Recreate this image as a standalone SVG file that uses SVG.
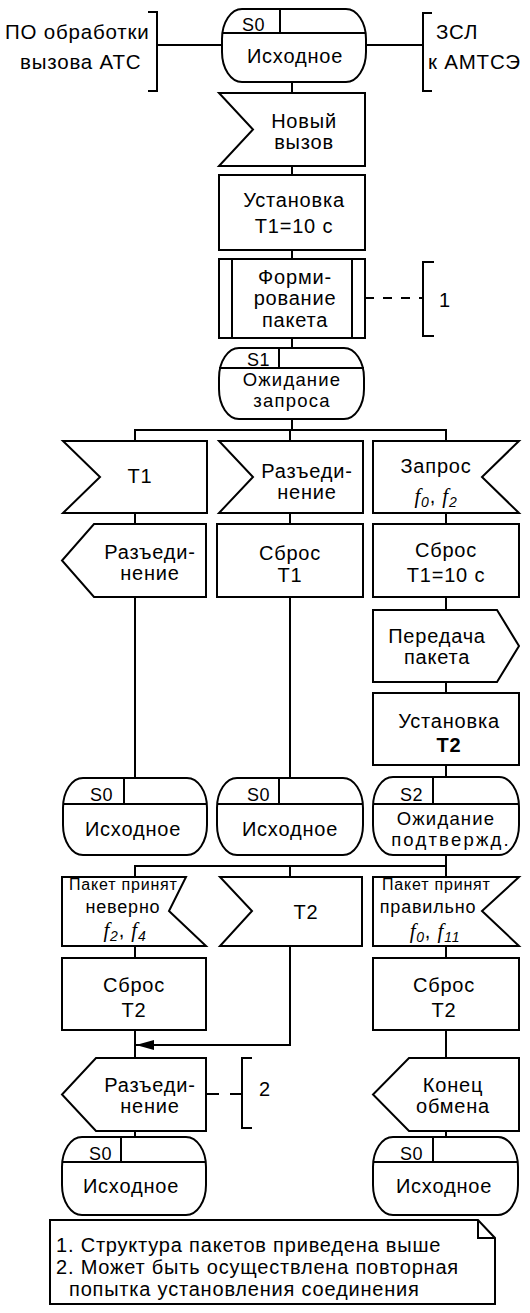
<svg xmlns="http://www.w3.org/2000/svg" width="530" height="1313" viewBox="0 0 530 1313">
<style>
.s{fill:#fff;stroke:#000;stroke-width:2}
.ln{fill:none;stroke:#000;stroke-width:2}
.ds{stroke-dasharray:9 9}
.t{font-family:"Liberation Sans",Arial,sans-serif;font-size:20px;letter-spacing:0.8px;text-anchor:middle;fill:#000}
.st{font-family:"Liberation Sans",Arial,sans-serif;font-size:18px;letter-spacing:0.5px;text-anchor:end;fill:#000}
.l{text-anchor:start}
.sm{font-size:16px}
.sm2{font-size:18px}
.md{font-size:18.5px;letter-spacing:1.2px}
.an{font-size:20.5px}
.fi{font-family:"Liberation Serif",serif;font-style:italic;font-size:21px}
.sb{font-style:italic;font-size:14px}
.b{font-weight:bold}
</style>
<defs>
<marker id="ah" viewBox="0 0 18 10" refX="18" refY="5" markerWidth="18" markerHeight="10" markerUnits="userSpaceOnUse" orient="auto">
<path d="M0 0 L18 5 L0 10 Z" fill="#000"/>
</marker>
</defs>

<g id="connectors">
<path class="ln" d="M157 45 H222 M366 45 H423"/>
<path class="ln" d="M292 82 V93 M292 166 V175 M292 250 V259 M292 338 V348 M292 419 V430"/>
<path class="ln" d="M135 441 V430 H446 V441 M290 430 V441"/>
<path class="ln" d="M135 513 V524 M290 513 V524 M446 513 V524"/>
<path class="ln" d="M135 597 V778 M290 597 V778 M446 597 V610 M446 682 V693 M446 765 V777"/>
<path class="ln" d="M446 855 V866 H135 V877 M290 866 V877 M446 866 V877"/>
<path class="ln" d="M135 946 V958 M446 946 V958 M135 1030 V1058 M446 1030 V1058 M135 1131 V1137 M446 1131 V1137"/>
<path class="ln" d="M290 946 V1045 H136" marker-end="url(#ah)"/>
<path class="ln ds" d="M365 298 H423"/>
<path class="ln" d="M206 1094 H219 M230 1094 H242"/>
</g>

<g id="ann-left">
<path class="ln" d="M148 12 H157 V91 H148"/>
<text class="t l an" x="5" y="39">ПО обработки</text>
<text class="t l an" x="20" y="69">вызова АТС</text>
</g>
<g id="ann-right">
<path class="ln" d="M432 13 H423 V91 H432"/>
<text class="t l an" x="436" y="39">ЗСЛ</text>
<text class="t l an" x="428" y="69">к АМТСЭ</text>
</g>

<g id="state-s0-top">
<rect class="s" x="222" y="9" width="144" height="73" rx="20" ry="30"/>
<path class="ln" d="M222 33 H366 M280 9 V33"/>
<text class="st" x="265" y="31">S0</text>
<text class="t" x="295" y="63">Исходное</text>
</g>

<g id="in-new-call">
<path class="s" d="M219 93 H365 V166 H219 L253 129.5 Z"/>
<text class="t" x="304" y="128">Новый</text>
<text class="t" x="304" y="149">вызов</text>
</g>

<g id="task-set-t1">
<rect class="s" x="219" y="175" width="146" height="75"/>
<text class="t" x="294" y="207">Установка</text>
<text class="t" x="294" y="233">T1=10 с</text>
</g>

<g id="proc-form">
<rect class="s" x="219" y="259" width="146" height="79"/>
<path class="ln" d="M232 259 V338 M352 259 V338"/>
<text class="t" x="295" y="284">Форми-</text>
<text class="t" x="295" y="305">рование</text>
<text class="t" x="295" y="327">пакета</text>
</g>

<g id="ann-1">
<path class="ln" d="M434 262 H423 V336 H434"/>
<text class="t l" x="439" y="307">1</text>
</g>

<g id="state-s1">
<rect class="s" x="219" y="348" width="145" height="71" rx="20" ry="30"/>
<path class="ln" d="M219 368 H364 M279 348 V368"/>
<text class="st" x="270" y="366">S1</text>
<text class="t md" x="292" y="386">Ожидание</text>
<text class="t md" x="292" y="407">запроса</text>
</g>

<g id="in-t1">
<path class="s" d="M63 441 H207 V513 H63 L100 477 Z"/>
<text class="t" x="140" y="483">T1</text>
</g>

<g id="out-disc-1">
<path class="s" d="M94 524 H206 V597 H94 L62 560.5 Z"/>
<text class="t" x="150" y="559">Разъеди-</text>
<text class="t" x="150" y="580">нение</text>
</g>

<g id="state-s0-left">
<rect class="s" x="63" y="778" width="144" height="77" rx="20" ry="30"/>
<path class="ln" d="M63 804 H207 M124 778 V804"/>
<text class="st" x="113" y="801">S0</text>
<text class="t" x="133" y="836">Исходное</text>
</g>

<g id="in-disc">
<path class="s" d="M219 441 H363 V513 H219 L253 477 Z"/>
<text class="t" x="307" y="478">Разъеди-</text>
<text class="t" x="307" y="499">нение</text>
</g>

<g id="task-reset-t1">
<rect class="s" x="217" y="524" width="146" height="73"/>
<text class="t" x="290" y="560">Сброс</text>
<text class="t" x="290" y="582">T1</text>
</g>

<g id="state-s0-mid">
<rect class="s" x="217" y="778" width="146" height="77" rx="20" ry="30"/>
<path class="ln" d="M217 804 H363 M279 778 V804"/>
<text class="st" x="270" y="801">S0</text>
<text class="t" x="290" y="836">Исходное</text>
</g>

<g id="in-request">
<path class="s" d="M373 441 H519 L482 477 L519 513 H373 Z"/>
<text class="t" x="436" y="473">Запрос</text>
<text class="t" x="436" y="503"><tspan class="fi">f</tspan><tspan class="sb" dy="4">0</tspan><tspan dy="-4">, </tspan><tspan class="fi">f</tspan><tspan class="sb" dy="4">2</tspan></text>
</g>

<g id="task-reset-t1-10">
<rect class="s" x="373" y="524" width="146" height="73"/>
<text class="t" x="446" y="557">Сброс</text>
<text class="t" x="446" y="582">T1=10 с</text>
</g>

<g id="out-send">
<path class="s" d="M373 610 H497 L519 646 L497 682 H373 Z"/>
<text class="t" x="437" y="643">Передача</text>
<text class="t" x="437" y="664">пакета</text>
</g>

<g id="task-set-t2">
<rect class="s" x="373" y="693" width="146" height="72"/>
<text class="t" x="449" y="728">Установка</text>
<text class="t b" x="449" y="752">T2</text>
</g>

<g id="state-s2">
<rect class="s" x="373" y="777" width="146" height="78" rx="20" ry="30"/>
<path class="ln" d="M373 804 H519 M433 777 V804"/>
<text class="st" x="423" y="801">S2</text>
<text class="t md" x="446" y="825">Ожидание</text>
<text class="t md" x="451" y="846" style="letter-spacing:2.2px">подтвержд.</text>
</g>

<g id="in-bad">
<path class="s" d="M62 877 H186 L169 911 L206 946 H62 Z"/>
<text class="t l sm" x="69" y="890">Пакет принят</text>
<text class="t sm2" x="123" y="913">неверно</text>
<text class="t" x="125" y="937"><tspan class="fi">f</tspan><tspan class="sb" dy="4">2</tspan><tspan dy="-4">, </tspan><tspan class="fi">f</tspan><tspan class="sb" dy="4">4</tspan></text>
</g>

<g id="in-t2">
<path class="s" d="M220 877 H362 V946 H220 L252 911 Z"/>
<text class="t" x="306" y="919">T2</text>
</g>

<g id="in-good">
<path class="s" d="M373 877 H519 L482 911 L519 946 H373 Z"/>
<text class="t l sm" x="382" y="890">Пакет принят</text>
<text class="t sm2" x="428" y="913">правильно</text>
<text class="t" x="435" y="938"><tspan class="fi">f</tspan><tspan class="sb" dy="4">0</tspan><tspan dy="-4">, </tspan><tspan class="fi">f</tspan><tspan class="sb" dy="4">11</tspan></text>
</g>

<g id="task-reset-t2-left">
<rect class="s" x="62" y="958" width="144" height="72"/>
<text class="t" x="134" y="992">Сброс</text>
<text class="t" x="134" y="1017">T2</text>
</g>

<g id="task-reset-t2-right">
<rect class="s" x="373" y="958" width="146" height="72"/>
<text class="t" x="444" y="992">Сброс</text>
<text class="t" x="444" y="1017">T2</text>
</g>

<g id="out-disc-2">
<path class="s" d="M96 1058 H206 V1131 H96 L62 1094.5 Z"/>
<text class="t" x="150" y="1092">Разъеди-</text>
<text class="t" x="150" y="1113">нение</text>
</g>

<g id="ann-2">
<path class="ln" d="M252 1058 H242 V1128 H252"/>
<text class="t l" x="259" y="1096">2</text>
</g>

<g id="out-end">
<path class="s" d="M409 1058 H519 V1131 H409 L373 1094.5 Z"/>
<text class="t" x="453" y="1092">Конец</text>
<text class="t" x="453" y="1113">обмена</text>
</g>

<g id="state-s0-bl">
<rect class="s" x="62" y="1137" width="144" height="78" rx="20" ry="30"/>
<path class="ln" d="M62 1162 H206 M121 1137 V1162"/>
<text class="st" x="112" y="1160">S0</text>
<text class="t" x="131" y="1193">Исходное</text>
</g>

<g id="state-s0-br">
<rect class="s" x="373" y="1137" width="145" height="78" rx="20" ry="30"/>
<path class="ln" d="M373 1162 H518 M433 1137 V1162"/>
<text class="st" x="423" y="1160">S0</text>
<text class="t" x="444" y="1193">Исходное</text>
</g>

<g id="note">
<path class="s" d="M50 1220 H478 L495 1238 V1304 H50 Z"/>
<path class="ln" d="M478 1220 V1238 H495"/>
<text class="t l" x="56" y="1252">1. Структура пакетов приведена выше</text>
<text class="t l" x="56" y="1274">2. Может быть осуществлена повторная</text>
<text class="t l" x="69" y="1296">попытка установления соединения</text>
</g>
</svg>
